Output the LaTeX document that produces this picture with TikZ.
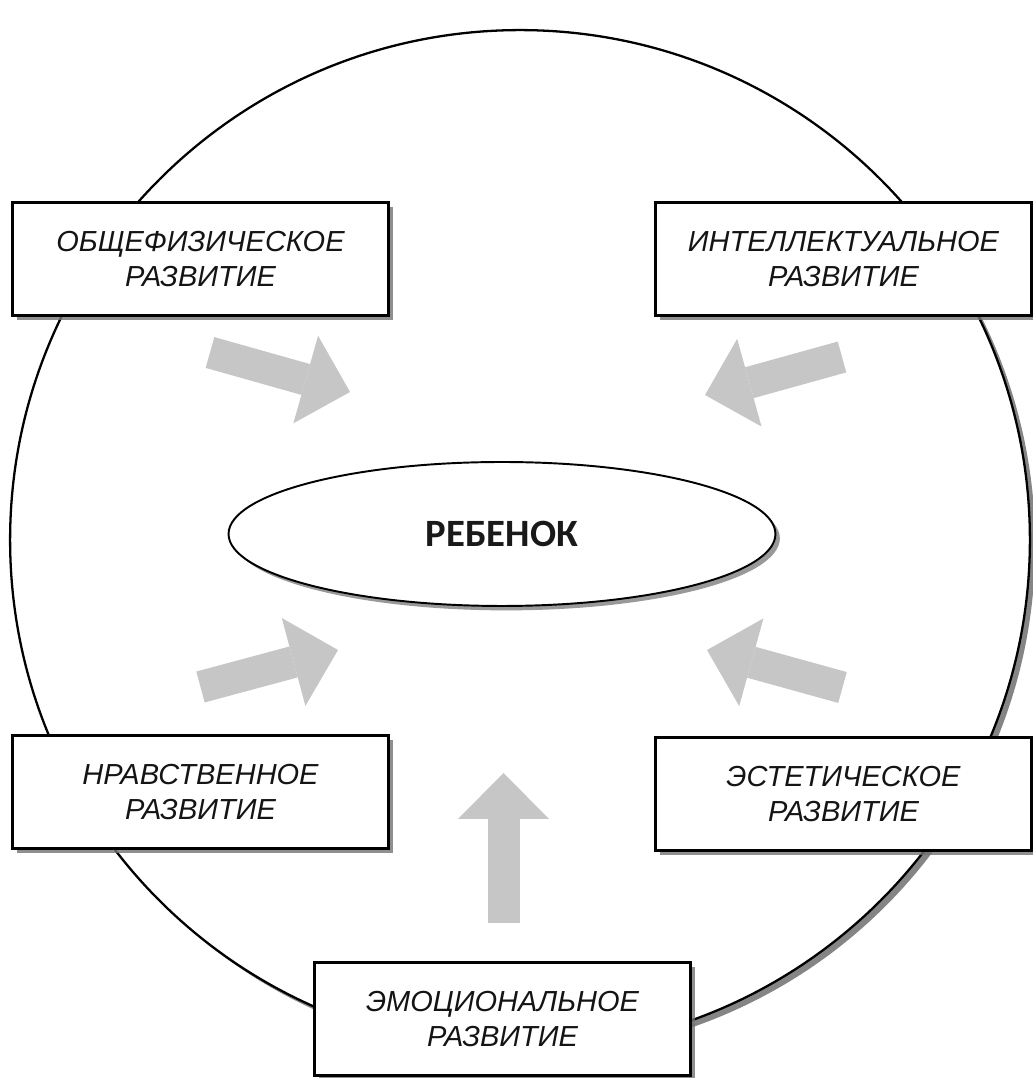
\documentclass[tikz,border=0pt]{standalone}
\usepackage{fontspec}
\setmainfont{Liberation Sans}
\newfontfamily\childfont{Carlito}
\usetikzlibrary{
  arrows.meta,
  positioning,
  shapes.geometric,
  shadows,
}

\begin{document}
\begin{tikzpicture}[
  x=0.02cm, y=0.02cm,
  font=\fontsize{16.5}{20}\selectfont\itshape,
  devbox/.style={draw, line width=1.2pt, fill=white, text=black!92, align=center,
    minimum width=7.52cm, minimum height=2.26cm, inner sep=0pt,
    drop shadow={shadow xshift=2.5pt, shadow yshift=-2.5pt, fill=black!55, opacity=.8}},
  fatarrow/.style={draw=gray!45, line width=0.64cm,
    -{Triangle[width=1.82cm, length=0.92cm, line width=0pt]}},
]
  \useasboundingbox (0,0) rectangle (1032,1078);

  % Outer circle
  \node[circle, draw, line width=1.3pt, fill=white, minimum size=20.4cm, inner sep=0pt,
        drop shadow={shadow xshift=3pt, shadow yshift=-3pt, fill=black!60, opacity=.8}]
        (ring) at (520,538) {};

  % Child in the middle
  \node[ellipse, draw, line width=1.1pt, fill=white, text=black!90,
        minimum width=10.94cm, minimum height=2.88cm, inner sep=0pt,
        font=\childfont\bfseries\fontsize{22}{26}\selectfont,
        drop shadow={shadow xshift=2.5pt, shadow yshift=-2.5pt, fill=black!50, opacity=.8}]
        (child) at (502,544) {РЕБЕНОК};

  % Arrow ends
  \coordinate (ofr-tail) at (210,725.5);   \coordinate (ofr-tip) at (350,686);
  \coordinate (int-tail) at (842,721);     \coordinate (int-tip) at (705,683);
  \coordinate (nrav-tail) at (200.5,391);  \coordinate (nrav-tip) at (338,428);
  \coordinate (est-tail) at (842.5,390.5); \coordinate (est-tip) at (707,428);
  \coordinate (emo-tail) at (503.5,155);   \coordinate (emo-tip) at (503.5,305);

  % Arrows toward the child
  \draw[fatarrow] (ofr-tail) -- (ofr-tip);
  \draw[fatarrow] (int-tail) -- (int-tip);
  \draw[fatarrow] (nrav-tail) -- (nrav-tip);
  \draw[fatarrow] (est-tail) -- (est-tip);
  \draw[fatarrow] (emo-tail) -- (emo-tip);

  % Kinds of development
  \node[devbox] (ofr) at (200.5,819) {ОБЩЕФИЗИЧЕСКОЕ\\РАЗВИТИЕ};
  \node[devbox, right=5.3cm of ofr] (int) {ИНТЕЛЛЕКТУАЛЬНОЕ\\РАЗВИТИЕ};
  \node[devbox, below=8.36cm of ofr] (nrav) {НРАВСТВЕННОЕ\\РАЗВИТИЕ};
  \node[devbox, below=8.4cm of int] (est) {ЭСТЕТИЧЕСКОЕ\\РАЗВИТИЕ};
  \node[devbox] (emo) at (502.5,59) {ЭМОЦИОНАЛЬНОЕ\\РАЗВИТИЕ};
\end{tikzpicture}
\end{document}
